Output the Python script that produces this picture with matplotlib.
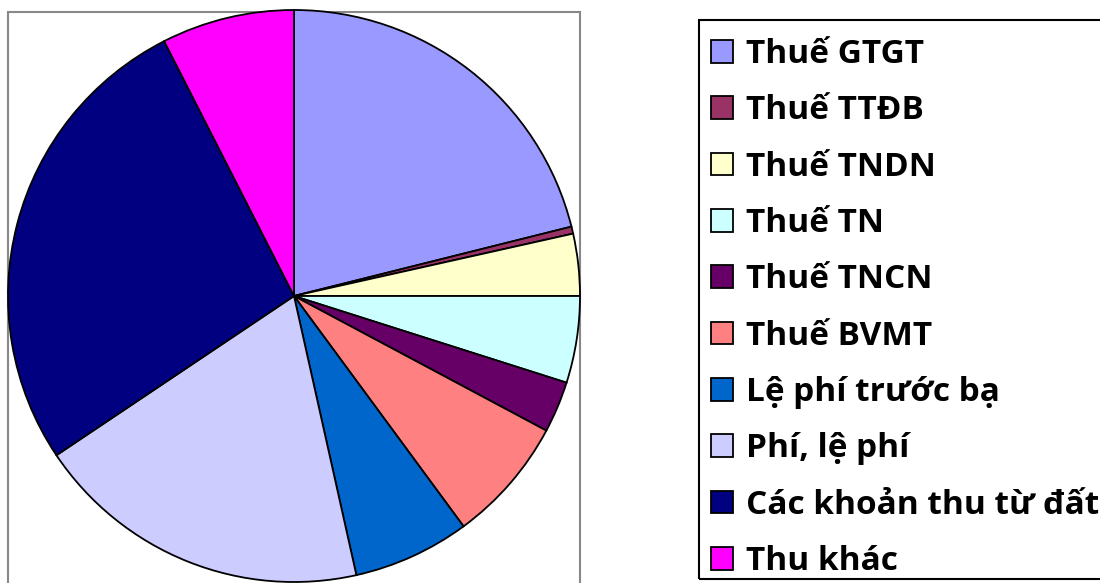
import matplotlib
matplotlib.use("Agg")
import matplotlib.pyplot as plt
from matplotlib.patches import Patch, Rectangle

labels = [
    "Thuế GTGT",
    "Thuế TTĐB",
    "Thuế TNDN",
    "Thuế TN",
    "Thuế TNCN",
    "Thuế BVMT",
    "Lệ phí trước bạ",
    "Phí, lệ phí",
    "Các khoản thu từ đất",
    "Thu khác",
]
shares = [21.1, 0.4, 3.5, 4.9, 2.9, 7.1, 6.6, 19.1, 26.9, 7.5]
colors = [
    "#9999FF", "#993366", "#FFFFCC", "#CCFFFF", "#660066",
    "#FF8080", "#0066CC", "#CCCCFF", "#000080", "#FF00FF",
]

W, H = 1100, 583
fig = plt.figure(figsize=(W / 100, H / 100), dpi=100)
ax = fig.add_axes([0, 0, 1, 1])

# plot area frame (gray), runs off the bottom edge
ax.add_patch(Rectangle((8, -10), 572, H - 12 + 10, fill=False,
                       edgecolor="#888888", linewidth=1.5))
# legend frame, runs off the right edge
ax.add_patch(Rectangle((699, H - 579), 420, 559, fill=False,
                       edgecolor="black", linewidth=1.5))

ax.pie(
    shares,
    colors=colors,
    startangle=90,
    counterclock=False,
    center=(294, H - 296),
    radius=286,
    wedgeprops=dict(edgecolor="black", linewidth=1.3),
    frame=True,
)
ax.set_xlim(0, W)
ax.set_ylim(0, H)
ax.set_aspect("equal")
ax.axis("off")

handles = [Patch(facecolor=c, edgecolor="black", linewidth=1.3) for c in colors]
leg = fig.legend(
    handles,
    labels,
    loc="upper left",
    bbox_to_anchor=(711 / W, 1 - 38 / H),
    frameon=False,
    prop=dict(family=["Open Sans", "DejaVu Sans"], weight="bold", size=24),
    handlelength=0.66,
    handleheight=0.66,
    handletextpad=0.38,
    labelspacing=0.7,
    borderpad=0,
    borderaxespad=0,
)

fig.savefig("out.png", dpi=100)
